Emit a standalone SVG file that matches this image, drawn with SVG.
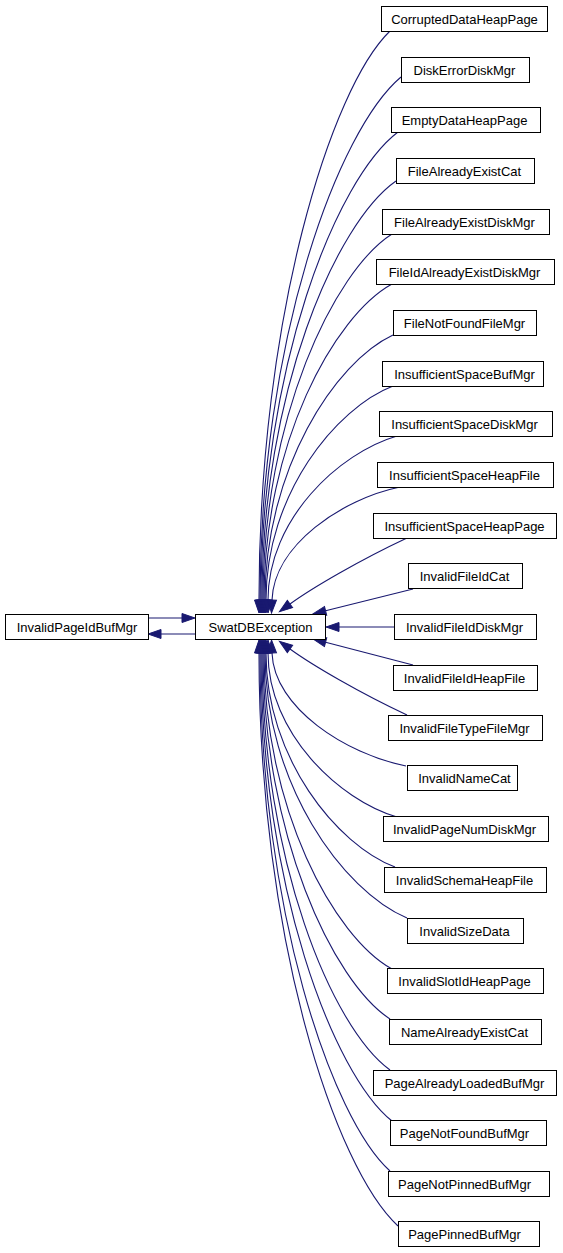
<svg xmlns="http://www.w3.org/2000/svg" width="563" height="1253" viewBox="0 0 563 1253">
<style>
.n rect{fill:#fff;stroke:#000;stroke-width:1}
.n text{font-family:"Liberation Sans",Arial,sans-serif;font-size:13px;text-anchor:middle;fill:#000}
.e path{fill:none;stroke:#191970;stroke-width:1.1;marker-end:url(#arr)}
</style>
<defs>
<marker id="arr" markerWidth="14" markerHeight="10" refX="0" refY="4.5" orient="auto" markerUnits="userSpaceOnUse" overflow="visible">
<polygon points="0,0 13,4.5 0,9" fill="#191970" stroke="#191970" stroke-width="1"/>
</marker>
</defs>
<rect width="563" height="1253" fill="#fff"/>
<g id="edges" class="e">
<path d="M148,618 L182,618"/>
<path d="M195,634 L161,634"/>
<path d="M390,31 C331,88 259,317 259,600"/>
<path d="M401,77 C338,130 260,340 260,600"/>
<path d="M398,132 C336,179 261,367 261,600"/>
<path d="M396,181 C336,223 262,392 262,600"/>
<path d="M392,234 C334,271 263,418 263,600"/>
<path d="M392,284 C334,316 264,443 264,600"/>
<path d="M393,335 C335,362 265,469 265,600"/>
<path d="M393,386 C336,408 266,494 266,600"/>
<path d="M397,436 C339,453 268,519 268,600"/>
<path d="M400,487 C342,499 274,545 272,600"/>
<path d="M407,538 C360,560 312,588 290,604"/>
<path d="M413,589 L325.6,610.8"/>
<path d="M394,627 L339,627"/>
<path d="M413,665 L325.6,642.2"/>
<path d="M407,715 C360,693 312,665 290,649"/>
<path d="M406,766 C346,754 274,708 272,653"/>
<path d="M397,817 C339,800 268,733 268,653"/>
<path d="M395,867 C337,845 266,758 266,653"/>
<path d="M407,918 C343,891 265,784 265,653"/>
<path d="M392,969 C334,937 264,809 264,653"/>
<path d="M390,1019 C333,982 263,834 263,653"/>
<path d="M390,1070 C332,1028 262,860 262,653"/>
<path d="M392,1121 C333,1074 261,885 261,653"/>
<path d="M390,1171 C332,1119 260,910 260,653"/>
<path d="M398,1226 C335,1168 259,938 259,653"/>
</g>
<g id="InvalidPageIdBufMgr" class="n"><rect x="5.5" y="614.5" width="143" height="25"/><text x="77" y="631.5">InvalidPageIdBufMgr</text></g>
<g id="SwatDBException" class="n"><rect x="195.5" y="614.5" width="130" height="25"/><text x="260.5" y="631.5">SwatDBException</text></g>
<g id="CorruptedDataHeapPage" class="n"><rect x="381.5" y="6.5" width="166" height="25"/><text x="464.5" y="23.5">CorruptedDataHeapPage</text></g>
<g id="DiskErrorDiskMgr" class="n"><rect x="401.5" y="57.5" width="128" height="25"/><text x="464.5" y="74.5">DiskErrorDiskMgr</text></g>
<g id="EmptyDataHeapPage" class="n"><rect x="391.5" y="107.5" width="149" height="25"/><text x="464.5" y="124.5">EmptyDataHeapPage</text></g>
<g id="FileAlreadyExistCat" class="n"><rect x="396.5" y="158.5" width="138" height="25"/><text x="464.5" y="175.5">FileAlreadyExistCat</text></g>
<g id="FileAlreadyExistDiskMgr" class="n"><rect x="382.5" y="209.5" width="167" height="25"/><text x="464.5" y="226.5">FileAlreadyExistDiskMgr</text></g>
<g id="FileIdAlreadyExistDiskMgr" class="n"><rect x="376.5" y="259.5" width="178" height="25"/><text x="464.5" y="276.5">FileIdAlreadyExistDiskMgr</text></g>
<g id="FileNotFoundFileMgr" class="n"><rect x="393.5" y="310.5" width="143" height="25"/><text x="464.5" y="327.5">FileNotFoundFileMgr</text></g>
<g id="InsufficientSpaceBufMgr" class="n"><rect x="382.5" y="361.5" width="161" height="25"/><text x="464.5" y="378.5">InsufficientSpaceBufMgr</text></g>
<g id="InsufficientSpaceDiskMgr" class="n"><rect x="379.5" y="411.5" width="173" height="25"/><text x="464.5" y="428.5">InsufficientSpaceDiskMgr</text></g>
<g id="InsufficientSpaceHeapFile" class="n"><rect x="377.5" y="462.5" width="176" height="25"/><text x="464.5" y="479.5">InsufficientSpaceHeapFile</text></g>
<g id="InsufficientSpaceHeapPage" class="n"><rect x="373.5" y="513.5" width="183" height="25"/><text x="464.5" y="530.5">InsufficientSpaceHeapPage</text></g>
<g id="InvalidFileIdCat" class="n"><rect x="408.5" y="563.5" width="114" height="25"/><text x="464.5" y="580.5">InvalidFileIdCat</text></g>
<g id="InvalidFileIdDiskMgr" class="n"><rect x="394.5" y="614.5" width="142" height="25"/><text x="464.5" y="631.5">InvalidFileIdDiskMgr</text></g>
<g id="InvalidFileIdHeapFile" class="n"><rect x="393.5" y="665.5" width="144" height="25"/><text x="464.5" y="682.5">InvalidFileIdHeapFile</text></g>
<g id="InvalidFileTypeFileMgr" class="n"><rect x="388.5" y="715.5" width="154" height="25"/><text x="464.5" y="732.5">InvalidFileTypeFileMgr</text></g>
<g id="InvalidNameCat" class="n"><rect x="407.5" y="765.5" width="110" height="25"/><text x="464.5" y="782.5">InvalidNameCat</text></g>
<g id="InvalidPageNumDiskMgr" class="n"><rect x="383.5" y="816.5" width="165" height="25"/><text x="464.5" y="833.5">InvalidPageNumDiskMgr</text></g>
<g id="InvalidSchemaHeapFile" class="n"><rect x="384.5" y="867.5" width="162" height="25"/><text x="464.5" y="884.5">InvalidSchemaHeapFile</text></g>
<g id="InvalidSizeData" class="n"><rect x="407.5" y="918.5" width="116" height="25"/><text x="464.5" y="935.5">InvalidSizeData</text></g>
<g id="InvalidSlotIdHeapPage" class="n"><rect x="387.5" y="968.5" width="156" height="25"/><text x="464.5" y="985.5">InvalidSlotIdHeapPage</text></g>
<g id="NameAlreadyExistCat" class="n"><rect x="389.5" y="1019.5" width="152" height="25"/><text x="464.5" y="1036.5">NameAlreadyExistCat</text></g>
<g id="PageAlreadyLoadedBufMgr" class="n"><rect x="373.5" y="1070.5" width="183" height="25"/><text x="464.5" y="1087.5">PageAlreadyLoadedBufMgr</text></g>
<g id="PageNotFoundBufMgr" class="n"><rect x="390.5" y="1120.5" width="156" height="25"/><text x="464.5" y="1137.5">PageNotFoundBufMgr</text></g>
<g id="PageNotPinnedBufMgr" class="n"><rect x="388.5" y="1171.5" width="161" height="25"/><text x="464.5" y="1188.5">PageNotPinnedBufMgr</text></g>
<g id="PagePinnedBufMgr" class="n"><rect x="398.5" y="1221.5" width="141" height="25"/><text x="464.5" y="1238.5">PagePinnedBufMgr</text></g>
</svg>
